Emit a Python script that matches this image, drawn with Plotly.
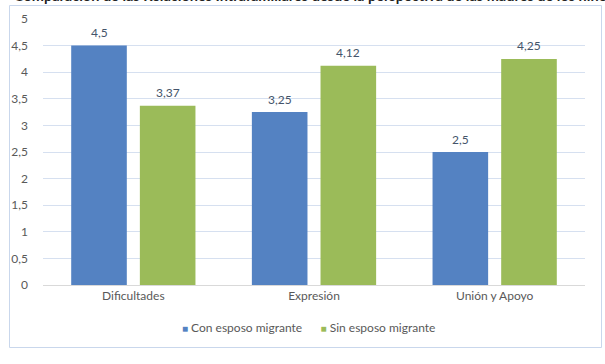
import plotly.graph_objects as go

categories = ["Dificultades", "Expresión", "Unión y Apoyo"]
con_esposo = [4.5, 3.25, 2.5]
sin_esposo = [3.37, 4.12, 4.25]
con_labels = ["4,5", "3,25", "2,5"]
sin_labels = ["3,37", "4,12", "4,25"]
series_names = ["Con esposo migrante", "Sin esposo migrante"]
tick_vals = [0, 0.5, 1, 1.5, 2, 2.5, 3, 3.5, 4, 4.5, 5]
tick_text = ["0", "0,5", "1", "1,5", "2", "2,5", "3", "3,5", "4", "4,5", "5"]

FONT = "Lato"
TXT = "#595959"
LBL = "#44546A"
BLUE = "#5482C2"
GREEN = "#9BBB59"

fig = go.Figure()
fig.add_trace(go.Bar(x=categories, y=con_esposo, name=series_names[0],
                     marker=dict(color=BLUE, line=dict(width=0))))
fig.add_trace(go.Bar(x=categories, y=sin_esposo, name=series_names[1],
                     marker=dict(color=GREEN, line=dict(width=0))))

W, H = 605, 364
L, R, T, B = 43, 20, 19, 79
pw, ph = W - L - R, H - T - B

def px_x(p):
    return (p - L) / pw

def px_y(p):
    return (H - B - p) / ph

annotations = []
slot = pw / len(categories) * (1 - 0.24) / 2
for cat, v, lab in zip(categories, con_esposo, con_labels):
    annotations.append(dict(x=cat, y=v, text=lab, xref="x", yref="y", showarrow=False,
                            xshift=-slot / 2, yshift=13, yanchor="middle",
                            font=dict(family=FONT, size=12, color=LBL)))
for cat, v, lab in zip(categories, sin_esposo, sin_labels):
    annotations.append(dict(x=cat, y=v, text=lab, xref="x", yref="y", showarrow=False,
                            xshift=slot / 2, yshift=13, yanchor="middle",
                            font=dict(family=FONT, size=12, color=LBL)))

# legend as text with coloured squares
annotations.append(dict(
    text=f"<span style='color:{BLUE};font-size:10px'>■</span> {series_names[0]}"
         f"      <span style='color:{GREEN};font-size:10px'>■</span> {series_names[1]}",
    xref="paper", yref="paper", x=px_x(308), y=px_y(327), xanchor="center", yanchor="middle",
    showarrow=False, font=dict(family=FONT, size=12, color=TXT)))

annotations.append(dict(
    text="<b>Comparación de las Relaciones Intrafamiliares desde la perspectiva de las madres de los niños</b>",
    xref="paper", yref="paper", x=px_x(12), y=px_y(6), xanchor="left", yanchor="bottom",
    showarrow=False, font=dict(family=FONT, size=14.5, color="#222222")))

fig.update_layout(
    width=W, height=H,
    margin=dict(l=L, r=R, t=T, b=B, autoexpand=False),
    paper_bgcolor="white", plot_bgcolor="white",
    barmode="group", bargap=0.24, bargroupgap=0.19,
    font=dict(family=FONT, size=12, color=TXT),
    separators=",.",
    showlegend=False,
    xaxis=dict(showgrid=False, showline=True, linecolor="#D9D9D9", linewidth=1,
               ticks="", tickfont=dict(family=FONT, size=12, color=TXT)),
    yaxis=dict(range=[0, 5], tickvals=tick_vals, ticktext=tick_text,
               showgrid=True, gridcolor="#D6E0F0", gridwidth=1,
               zeroline=False, showline=False, ticks="", ticklabelstandoff=14,
               tickfont=dict(family=FONT, size=12, color=TXT)),
    shapes=[dict(type="rect", xref="paper", yref="paper",
                 x0=px_x(9.5), x1=px_x(601.5), y0=px_y(347.5), y1=px_y(5.5),
                 line=dict(color="#C9D7EC", width=1), layer="below")],
    annotations=annotations,
)

fig.write_html("out.html", config={"displayModeBar": False},
               post_script="document.body.style.margin='0';")
